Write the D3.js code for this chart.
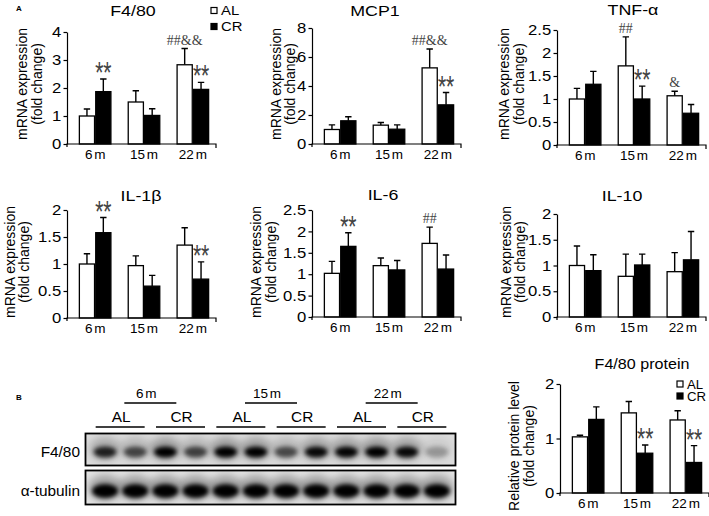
<!DOCTYPE html>
<html>
<head>
<meta charset="utf-8">
<script src="https://cdn.jsdelivr.net/npm/d3@7"></script>
<style>
body { margin: 0; background: #fff; }
svg { display: block; font-family: "Liberation Sans", Arial, sans-serif; }
.sig { font-family: Roboto, "Liberation Sans", sans-serif; font-variant-emoji: text; }
</style>
</head>
<body>
<script>
var width = 709,
    height = 516;

// ---- data ----
var groups = ["6 m", "15 m", "22 m"];
var series = ["AL", "CR"];

var f480AL = [1.0, 1.5, 2.83],  f480ALsd = [0.25, 0.4, 0.58];
var f480CR = [1.87, 1.02, 1.95], f480CRsd = [0.45, 0.24, 0.25];

var mcp1AL = [1.0, 1.3, 5.25],  mcp1ALsd = [0.32, 0.18, 1.3];
var mcp1CR = [1.6, 1.02, 2.7],  mcp1CRsd = [0.28, 0.3, 0.85];

var tnfAL = [1.0, 1.72, 1.07],  tnfALsd = [0.23, 0.63, 0.1];
var tnfCR = [1.32, 1.0, 0.69],  tnfCRsd = [0.28, 0.28, 0.19];

var il1AL = [1.0, 0.97, 1.35],  il1ALsd = [0.19, 0.18, 0.32];
var il1CR = [1.58, 0.59, 0.72], il1CRsd = [0.28, 0.2, 0.32];

var il6AL = [1.02, 1.2, 1.72],  il6ALsd = [0.28, 0.18, 0.38];
var il6CR = [1.65, 1.1, 1.12],  il6CRsd = [0.32, 0.22, 0.33];

var il10AL = [1.0, 0.79, 0.88], il10ALsd = [0.38, 0.43, 0.37];
var il10CR = [0.9, 1.01, 1.11], il10CRsd = [0.31, 0.21, 0.55];

var protAL = [1.03, 1.47, 1.34], protALsd = [0.03, 0.21, 0.17];
var protCR = [1.35, 0.73, 0.56], protCRsd = [0.23, 0.15, 0.31];

var ticksF480 = [0, 1, 2, 3, 4];
var ticksMCP1 = [0, 2, 4, 6, 8];
var ticks25 = [0, 0.5, 1, 1.5, 2, 2.5];
var ticks2 = [0, 0.5, 1, 1.5, 2];
var ticksProt = [0, 1, 2];

// significance marks: [group index, series, text]
var marksF480 = [[0, "CR", "**"], [2, "AL", "##&&"], [2, "CR", "**"]];
var marksMCP1 = [[2, "AL", "##&&"], [2, "CR", "**"]];
var marksTNF = [[1, "AL", "##"], [1, "CR", "**"], [2, "AL", "&"]];
var marksIL1 = [[0, "CR", "**"], [2, "CR", "**"]];
var marksIL6 = [[0, "CR", "**"], [2, "AL", "##"]];
var marksProt = [[1, "CR", "**"], [2, "CR", "**"]];

// western blot, 12 lanes, band darkness 0..1
var laneSeries = ["AL", "AL", "CR", "CR", "AL", "AL", "CR", "CR", "AL", "AL", "CR", "CR"];
var bandF480 = [0.78, 0.6, 1.0, 0.62, 1.0, 0.95, 0.58, 0.9, 0.92, 1.0, 0.9, 0.25];
var bandTub = [1.0, 1.0, 1.0, 1.0, 1.0, 1.0, 1.0, 1.0, 0.95, 1.0, 0.95, 1.0];

var mrnaLabel = ["mRNA  expression", "(fold change)"];
var protLabel = ["Relative protein level", "(fold change)"];

// ---- layout ----
var panels = [
  {title: "F4/80", al: f480AL, alsd: f480ALsd, cr: f480CR, crsd: f480CRsd, ticks: ticksF480, marks: marksF480,
   x0: 67, y0: 144, y1: 32, tx: 133, ty: 16, lx: [22, 37], ly: 84, label: mrnaLabel},
  {title: "MCP1", al: mcp1AL, alsd: mcp1ALsd, cr: mcp1CR, crsd: mcp1CRsd, ticks: ticksMCP1, marks: marksMCP1,
   x0: 312, y0: 144, y1: 28, tx: 375, ty: 16, lx: [276, 290], ly: 84, label: mrnaLabel},
  {title: "TNF-α", al: tnfAL, alsd: tnfALsd, cr: tnfCR, crsd: tnfCRsd, ticks: ticks25, marks: marksTNF,
   x0: 557, y0: 145, y1: 30, tx: 633, ty: 15, lx: [504, 519], ly: 84, label: mrnaLabel},
  {title: "IL-1β", al: il1AL, alsd: il1ALsd, cr: il1CR, crsd: il1CRsd, ticks: ticks2, marks: marksIL1,
   x0: 67, y0: 318, y1: 210, tx: 141, ty: 201, lx: [10, 24], ly: 262, label: mrnaLabel},
  {title: "IL-6", al: il6AL, alsd: il6ALsd, cr: il6CR, crsd: il6CRsd, ticks: ticks25, marks: marksIL6,
   x0: 312, y0: 317, y1: 210, tx: 383, ty: 200, lx: [256, 271], ly: 262, label: mrnaLabel},
  {title: "IL-10", al: il10AL, alsd: il10ALsd, cr: il10CR, crsd: il10CRsd, ticks: ticks2, marks: [],
   x0: 557, y0: 317, y1: 214, tx: 622, ty: 201, lx: [506, 520], ly: 262, label: mrnaLabel},
  {title: "F4/80 protein", al: protAL, alsd: protALsd, cr: protCR, crsd: protCRsd, ticks: ticksProt, marks: marksProt,
   x0: 560, y0: 493, y1: 384, tx: 642, ty: 369, lx: [514, 529], ly: 446, label: protLabel, small: true}
];

var svg = d3.select("body").append("svg")
    .attr("width", width)
    .attr("height", height);

// horizontal text, slightly stretched like the original figure
function htext(parent, x, y, s, size, anchor, sx) {
  return parent.append("text")
      .attr("transform", "translate(" + x + "," + y + ") scale(" + (sx || 1.15) + ",1)")
      .attr("text-anchor", anchor || "middle")
      .style("font-size", size + "px")
      .text(s);
}

function drawPanel(p) {
  var g = svg.append("g");
  var y = d3.scaleLinear().domain([0, d3.max(p.ticks)]).range([p.y0, p.y1]);
  var x = d3.scaleBand().domain(groups)
      .range([p.x0 + 2, p.x0 + 152])
      .paddingInner(0.33).paddingOuter(0.2);
  var xs = d3.scaleBand().domain(series).range([0, x.bandwidth()]);

  var rows = [];
  groups.forEach(function(gr, i) {
    rows.push({g: gr, s: "AL", v: p.al[i], e: p.alsd[i]});
    rows.push({g: gr, s: "CR", v: p.cr[i], e: p.crsd[i]});
  });
  function cx(d) { return x(d.g) + xs(d.s) + xs.bandwidth() / 2; }

  // error bars (upper only)
  g.selectAll(".err").data(rows).enter().append("path")
      .attr("d", function(d) {
        var c = cx(d), top = y(d.v + d.e);
        return "M" + c + "," + y(d.v) + "V" + top + "M" + (c - 3.2) + "," + top + "H" + (c + 3.2);
      })
      .attr("fill", "none").attr("stroke", "#000").attr("stroke-width", 1.4);

  g.selectAll(".bar").data(rows).enter().append("rect")
      .attr("x", function(d) { return x(d.g) + xs(d.s) + 0.6; })
      .attr("y", function(d) { return y(d.v); })
      .attr("width", xs.bandwidth() - 1.2)
      .attr("height", function(d) { return y(0) - y(d.v); })
      .attr("fill", function(d) { return d.s == "AL" ? "#fff" : "#000"; })
      .attr("stroke", "#000").attr("stroke-width", 1.3);

  // y axis
  var ya = g.append("g")
      .attr("transform", "translate(" + p.x0 + ",0)")
      .call(d3.axisLeft(y).tickValues(p.ticks).tickSize(3.5).tickSizeOuter(0).tickPadding(1.5)
        .tickFormat(function(d) { return String(d); }));
  ya.attr("font-size", null).attr("font-family", null);
  ya.select(".domain").attr("stroke-width", 1.2);
  ya.selectAll(".tick line").attr("stroke-width", 1.2);
  ya.selectAll(".tick text")
      .attr("transform", "scale(1.15,1)")
      .style("font-size", "14.5px").attr("fill", "#000");

  // x axis line
  g.append("path")
      .attr("d", "M" + p.x0 + "," + (p.y0 + 3) + "V" + p.y0 + "H" + (p.x0 + 149) + "v4")
      .attr("fill", "none").attr("stroke", "#000").attr("stroke-width", 1.2);

  groups.forEach(function(gr) {
    htext(g, x(gr) + x.bandwidth() / 2, p.y0 + 15, gr, 13.5, "middle", 1.0)
        .style("word-spacing", "-2px");
  });

  htext(g, p.tx, p.ty, p.title, p.small ? 14 : 15.5, "middle", 1.15);

  p.label.forEach(function(l, i) {
    g.append("text")
        .attr("transform", "translate(" + p.lx[i] + "," + p.ly + ") rotate(-90)")
        .attr("text-anchor", "middle")
        .attr("dominant-baseline", "central")
        .style("font-size", "14px")
        .text(l);
  });

  // significance marks
  p.marks.forEach(function(m) {
    var d = rows[m[0] * 2 + (m[1] == "AL" ? 0 : 1)];
    var top = y(d.v + d.e);
    if (m[2].indexOf("*") >= 0) {
      g.append("text")
          .attr("class", "sig")
          .attr("transform", "translate(" + cx(d) + "," + (top + 2) + ") scale(0.9,1.25)")
          .attr("text-anchor", "middle")
          .style("font-size", "21px").attr("fill", "#444")
          .text(m[2]);
    } else {
      g.append("text")
          .attr("transform", "translate(" + cx(d) + "," + (top - 4) + ") scale(0.9,1)")
          .attr("text-anchor", "middle")
          .style("font-family", "'Liberation Serif', serif")
          .style("font-size", "15.5px").attr("fill", "#444")
          .text(m[2]);
    }
  });
}

panels.forEach(drawPanel);

// legends
function legend(x, y, gap, size) {
  series.forEach(function(s, i) {
    svg.append("rect")
        .attr("x", x).attr("y", y + i * gap)
        .attr("width", 6).attr("height", 6)
        .attr("fill", s == "AL" ? "#fff" : "#000")
        .attr("stroke", "#000").attr("stroke-width", 1.2);
    htext(svg, x + 10, y + i * gap + 7.5, s, size, "start", 1.1);
  });
}
legend(211, 7.5, 16, 13.5);
legend(677, 381, 12, 12);

// panel letters
svg.append("text").attr("x", 16).attr("y", 11).style("font-size", "8px").style("font-weight", "bold").text("A");
svg.append("text").attr("x", 16).attr("y", 400).style("font-size", "8px").style("font-weight", "bold").text("B");

// ---- western blot ----
var lane = d3.scaleBand().domain(d3.range(12)).range([90, 452]);
var lc = function(i) { return lane(i) + lane.bandwidth() / 2; };

var defs = svg.append("defs");
defs.append("filter").attr("id", "blur1").attr("x", "-50%").attr("y", "-50%").attr("width", "200%").attr("height", "200%")
  .append("feGaussianBlur").attr("stdDeviation", 2);
defs.append("filter").attr("id", "blur2").attr("x", "-50%").attr("y", "-50%").attr("width", "200%").attr("height", "200%")
  .append("feGaussianBlur").attr("stdDeviation", 4.5);

var boxes = [
  {name: "F4/80", y: 433.5, h: 32, bands: bandF480, by: 452, rx: 11.5, ry: 5.5, bg: "#dcdcdc"},
  {name: "α-tubulin", y: 470.5, h: 34, bands: bandTub, by: 491, rx: 13, ry: 7, bg: "#e4e4e4"}
];

boxes.forEach(function(b, k) {
  defs.append("clipPath").attr("id", "clip" + k)
    .append("rect").attr("x", 85.5).attr("y", b.y).attr("width", 370).attr("height", b.h);
  var bg = svg.append("g").attr("clip-path", "url(#clip" + k + ")");
  bg.append("rect").attr("x", 85.5).attr("y", b.y).attr("width", 370).attr("height", b.h).attr("fill", b.bg);
  // haze around bands
  bg.selectAll(".haze").data(b.bands).enter().append("ellipse")
      .attr("cx", function(d, i) { return lc(i); })
      .attr("cy", b.by - 3)
      .attr("rx", b.rx + 4).attr("ry", b.ry + 6)
      .attr("fill", "#000").attr("opacity", function(d) { return d * 0.3; })
      .attr("filter", "url(#blur2)");
  bg.selectAll(".band").data(b.bands).enter().append("ellipse")
      .attr("cx", function(d, i) { return lc(i); })
      .attr("cy", b.by)
      .attr("rx", b.rx).attr("ry", b.ry)
      .attr("fill", "#000").attr("opacity", function(d) { return Math.min(1, d * 1.05); })
      .attr("filter", "url(#blur1)");
  svg.append("rect").attr("x", 85.5).attr("y", b.y).attr("width", 370).attr("height", b.h)
      .attr("fill", "none").attr("stroke", "#000").attr("stroke-width", 1.8);
  htext(svg, 80, b.by + 5, b.name, 14, "end", 1.1);
});

// lane labels
for (var i = 0; i < 12; i += 2) {
  var mid = (lc(i) + lc(i + 1)) / 2;
  svg.append("line").attr("x1", mid - 24.5).attr("x2", mid + 24.5).attr("y1", 427).attr("y2", 427)
      .attr("stroke", "#000").attr("stroke-width", 1.3);
  htext(svg, mid + 1, 422, laneSeries[i], 14, "middle", 1.1);
}
groups.forEach(function(gr, j) {
  var mid = (lc(j * 4 + 1) + lc(j * 4 + 2)) / 2;
  svg.append("line").attr("x1", mid - 26).attr("x2", mid + 26).attr("y1", 403).attr("y2", 403)
      .attr("stroke", "#000").attr("stroke-width", 1.3);
  htext(svg, mid - 4, 398, gr, 13.5, "middle", 1.0).style("word-spacing", "-2px");
});
</script>
</body>
</html>
